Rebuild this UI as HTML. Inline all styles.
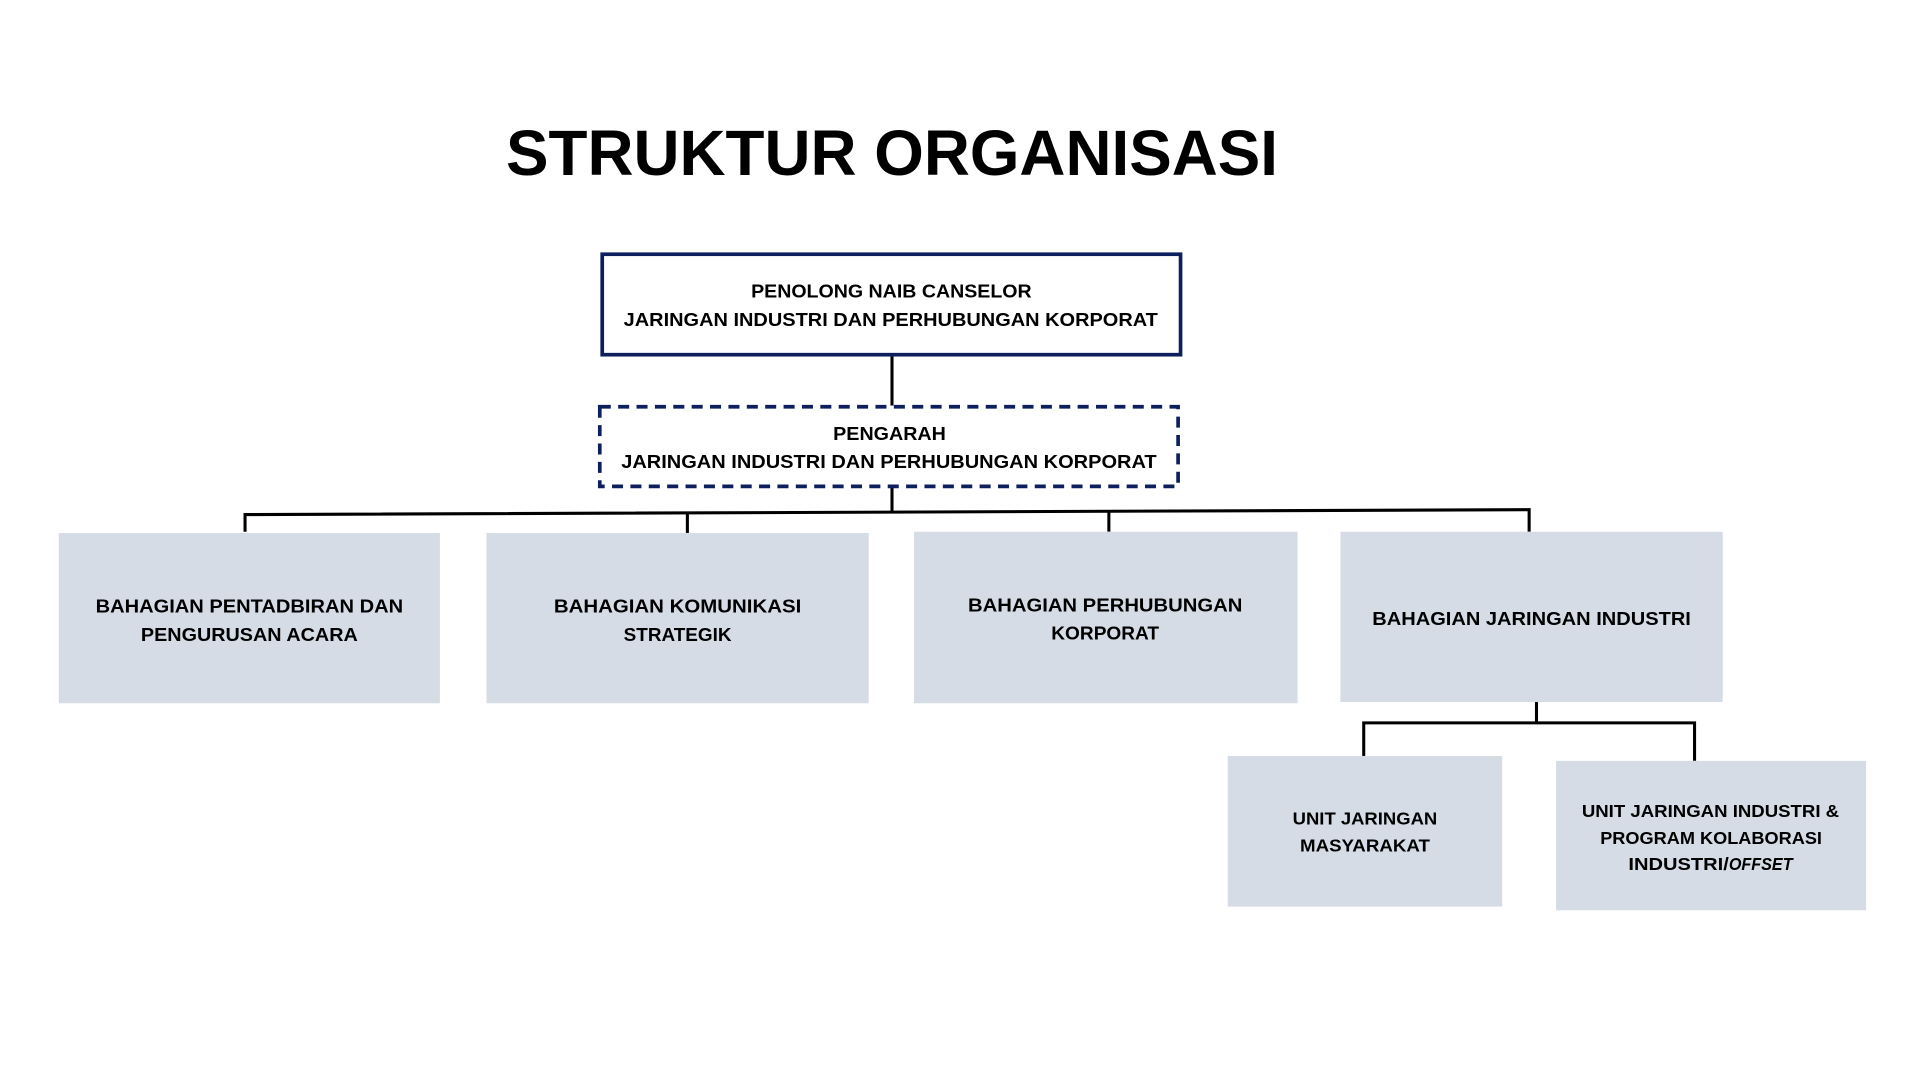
<!DOCTYPE html>
<html><head><meta charset="utf-8"><style>html,body{margin:0;padding:0;background:#fff;width:1920px;height:1080px;overflow:hidden}</style></head>
<body>
<svg width="1920" height="1080" viewBox="0 0 1567 881.5" preserveAspectRatio="none" xmlns="http://www.w3.org/2000/svg" font-family="Liberation Sans, Arial, sans-serif">
<rect width="1567" height="881.5" fill="#fff"/>
<text x="413" y="143" font-size="52" font-weight="bold" textLength="630" lengthAdjust="spacingAndGlyphs">STRUKTUR ORGANISASI</text>
<g stroke="#000" stroke-width="2.5" fill="none">
<line x1="728" y1="291" x2="728" y2="331"/>
<line x1="728" y1="398" x2="728" y2="418"/>
<polyline points="200,434 200,420 1248,416 1248,434"/>
<line x1="561" y1="419" x2="561" y2="435"/>
<line x1="905" y1="418" x2="905" y2="434"/>
<line x1="1254" y1="573" x2="1254" y2="590"/>
<polyline points="1113,617 1113,590 1383,590 1383,621"/>
</g>
<rect x="491.5" y="207.5" width="472" height="82" fill="#fff" stroke="#0d1f5c" stroke-width="3"/>
<rect x="489.5" y="332" width="472" height="65" fill="none" stroke="#0d1f5c" stroke-width="3" stroke-dasharray="9,6"/>
<g fill="#d6dce5">
<rect x="48" y="435" width="311" height="139"/>
<rect x="397" y="435" width="312" height="139"/>
<rect x="746" y="434" width="313" height="140"/>
<rect x="1094" y="434" width="312" height="139"/>
<rect x="1002" y="617" width="224" height="123"/>
<rect x="1270" y="621" width="253" height="122"/>
</g>
<g font-size="15" font-weight="bold" fill="#000">
<text x="613" y="243" textLength="229" lengthAdjust="spacingAndGlyphs">PENOLONG NAIB CANSELOR</text>
<text x="509" y="266" textLength="436" lengthAdjust="spacingAndGlyphs">JARINGAN INDUSTRI DAN PERHUBUNGAN KORPORAT</text>
<text x="680" y="359" textLength="92" lengthAdjust="spacingAndGlyphs">PENGARAH</text>
<text x="507" y="382" textLength="437" lengthAdjust="spacingAndGlyphs">JARINGAN INDUSTRI DAN PERHUBUNGAN KORPORAT</text>
<text x="78" y="500" textLength="251" lengthAdjust="spacingAndGlyphs">BAHAGIAN PENTADBIRAN DAN</text>
<text x="115" y="523" textLength="177" lengthAdjust="spacingAndGlyphs">PENGURUSAN ACARA</text>
<text x="452" y="500" textLength="202" lengthAdjust="spacingAndGlyphs">BAHAGIAN KOMUNIKASI</text>
<text x="509" y="523" textLength="88" lengthAdjust="spacingAndGlyphs">STRATEGIK</text>
<text x="790" y="499" textLength="224" lengthAdjust="spacingAndGlyphs">BAHAGIAN PERHUBUNGAN</text>
<text x="858" y="522" textLength="88" lengthAdjust="spacingAndGlyphs">KORPORAT</text>
<text x="1120" y="510" textLength="260" lengthAdjust="spacingAndGlyphs">BAHAGIAN JARINGAN INDUSTRI</text>
<text x="1055" y="673" font-size="14" textLength="118" lengthAdjust="spacingAndGlyphs">UNIT JARINGAN</text>
<text x="1061" y="695" font-size="14" textLength="106" lengthAdjust="spacingAndGlyphs">MASYARAKAT</text>
<text x="1291" y="667" font-size="14" textLength="210" lengthAdjust="spacingAndGlyphs">UNIT JARINGAN INDUSTRI &amp;</text>
<text x="1306" y="689" font-size="14" textLength="181" lengthAdjust="spacingAndGlyphs">PROGRAM KOLABORASI</text>
<text x="1329" y="710" font-size="14" textLength="82" lengthAdjust="spacingAndGlyphs">INDUSTRI/</text>
<text x="1411" y="710" font-size="14" font-style="italic" textLength="52" lengthAdjust="spacingAndGlyphs">OFFSET</text>
</g>
</svg>
</body></html>
